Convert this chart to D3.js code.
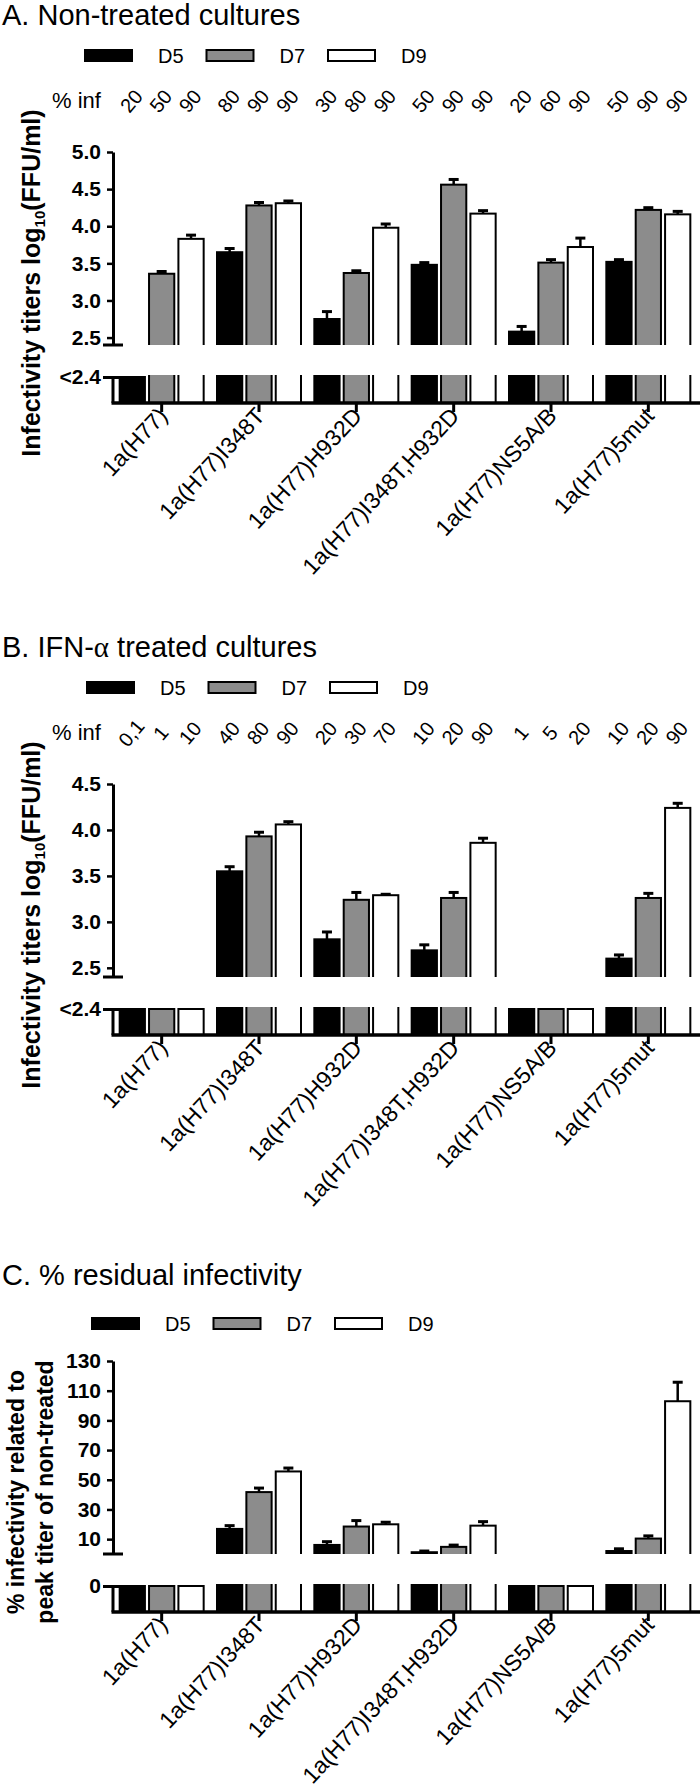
<!DOCTYPE html>
<meta charset="utf-8">
<style>
    body { margin: 0; background: #fff; }
    svg { font-family: "Liberation Sans", Arial, sans-serif; }
    .axis path, .axis line { stroke: #000; }
    .axis text { fill: #000; }
    .ytick text { font-weight: bold; font-size: 21px; }
    .xtick text { font-size: 23px; }
</style>
<body>
<script src="https://d3js.org/d3.v7.min.js"></script>
<script>

// strains (x categories) and days (series)
var strains = ["1a(H77)", "1a(H77)I348T", "1a(H77)H932D", "1a(H77)I348T,H932D", "1a(H77)NS5A/B", "1a(H77)5mut"];
var days = ["D5", "D7", "D9"];
var dayFill = {"D5": "#000", "D7": "#8c8c8c", "D9": "#fff"};

// A. non-treated, log10 FFU/ml (2.4 = below detection, "<2.4")
var nonTreatedD5 = [2.4, 3.65, 2.75, 3.48, 2.58, 3.52];
var nonTreatedD7 = [3.36, 4.28, 3.37, 4.56, 3.51, 4.22];
var nonTreatedD9 = [3.83, 4.31, 3.98, 4.17, 3.72, 4.16];
var nonTreatedErrD5 = [0, 0.05, 0.10, 0.03, 0.07, 0.03];
var nonTreatedErrD7 = [0.03, 0.04, 0.03, 0.07, 0.04, 0.03];
var nonTreatedErrD9 = [0.05, 0.03, 0.05, 0.04, 0.12, 0.04];
var nonTreatedInf = [["20","50","90"], ["80","90","90"], ["30","80","90"], ["50","90","90"], ["20","60","90"], ["50","90","90"]];

// B. IFN-alpha treated
var ifnD5 = [2.4, 3.55, 2.81, 2.69, 2.4, 2.60];
var ifnD7 = [2.4, 3.93, 3.24, 3.26, 2.4, 3.26];
var ifnD9 = [2.4, 4.06, 3.29, 3.86, 2.4, 4.24];
var ifnErrD5 = [0, 0.05, 0.08, 0.06, 0, 0.04];
var ifnErrD7 = [0, 0.045, 0.08, 0.06, 0, 0.05];
var ifnErrD9 = [0, 0.03, 0.01, 0.05, 0, 0.05];
var ifnInf = [["0,1","1","10"], ["40","80","90"], ["20","30","70"], ["10","20","90"], ["1","5","20"], ["10","20","90"]];

// C. % residual infectivity
var residualD5 = [0, 16.9, 6.1, 1.2, 0, 2.0];
var residualD7 = [0, 41.7, 18.5, 4.8, 0, 10.4];
var residualD9 = [0, 55.6, 20.0, 19.1, 0, 102.9];
var residualErrD5 = [0, 2.2, 2.2, 0.8, 0, 1.5];
var residualErrD7 = [0, 2.7, 4.0, 1.2, 0, 1.8];
var residualErrD9 = [0, 2.3, 1.4, 2.7, 0, 12.8];

// tick values
var ticksA = [2.5, 3.0, 3.5, 4.0, 4.5, 5.0];
var ticksB = [2.5, 3.0, 3.5, 4.0, 4.5];
var ticksC = [10, 30, 50, 70, 90, 110, 130];

var svg = d3.select("body").append("svg")
    .attr("width", 700)
    .attr("height", 1790);

// geometry shared by the three panels (panel coordinates)
var axisX = 113, upTop = 152, upBottom = 345, lowTop = 377, lowBottom = 403;

var x0 = d3.scaleBand().domain(strains).range([axisX, 697]);
var x1 = d3.scaleBand().domain(days).range([-42, 42]).paddingInner(0.14);

function drawPanel(p) {
    var g = svg.append("g").attr("transform", "translate(0," + p.oy + ")");

    var upper = d3.scaleLinear().domain(p.upperDomain).range([upBottom, upTop]);
    var lower = d3.scaleLinear().domain([p.lowValue - 1, p.lowValue]).range([lowBottom, lowTop]);

    // title
    var t = g.append("text").attr("x", 2).attr("y", p.titleY)
        .style("font-size", "29px");
    p.title.forEach(function(part) {
        var s = t.append("tspan").text(part.text);
        if (part.serif) s.style("font-family", "'Liberation Serif', 'DejaVu Serif', serif");
    });

    // legend
    days.forEach(function(d, i) {
        var lx = 85 + p.legendDx + i * 121.5;
        g.append("rect")
            .attr("x", lx).attr("y", p.legendY - 5.5)
            .attr("width", 47).attr("height", 11)
            .attr("fill", dayFill[d]).attr("stroke", "#000").attr("stroke-width", 2);
        g.append("text")
            .attr("x", lx + 73).attr("y", p.legendY + 7.5)
            .style("font-size", "20px")
            .text(d);
    });

    // % inf row
    if (p.inf) {
        g.append("text").attr("x", 52).attr("y", 108)
            .style("font-size", "22px").text("% inf");
        strains.forEach(function(s, si) {
            days.forEach(function(d, di) {
                var cx = x0(s) + x0.bandwidth() / 2 + x1(d) + x1.bandwidth() / 2;
                g.append("text")
                    .attr("transform", "translate(" + (cx - 1) + ",101) rotate(-50)")
                    .attr("text-anchor", "middle")
                    .attr("dy", "0.35em")
                    .style("font-size", "20px")
                    .text(p.inf[si][di]);
            });
        });
    }

    // clip regions for the two axis segments
    var cu = "clipU" + p.id, cl = "clipL" + p.id;
    var defs = g.append("defs");
    defs.append("clipPath").attr("id", cu).append("rect")
        .attr("x", 0).attr("y", upTop - 40).attr("width", 700).attr("height", upBottom - upTop + 40);
    defs.append("clipPath").attr("id", cl).append("rect")
        .attr("x", 0).attr("y", lowTop - 2).attr("width", 700).attr("height", lowBottom - lowTop + 2);

    var rows = [];
    strains.forEach(function(s, si) {
        days.forEach(function(d, di) {
            rows.push({strain: s, day: d, value: p.values[di][si], err: p.errors[di][si]});
        });
    });
    function bx(r) { return x0(r.strain) + x0.bandwidth() / 2 + x1(r.day); }

    // upper segment bars with positive error bars
    var gu = g.append("g").attr("clip-path", "url(#" + cu + ")");
    var up = rows.filter(function(r) { return r.value > p.upperDomain[0]; });
    var withErr = up.filter(function(r) { return r.err > 0; });
    gu.selectAll("line.err").data(withErr).enter()
        .append("line")
        .attr("x1", function(r) { return bx(r) + x1.bandwidth() / 2; })
        .attr("x2", function(r) { return bx(r) + x1.bandwidth() / 2; })
        .attr("y1", function(r) { return upper(r.value); })
        .attr("y2", function(r) { return upper(r.value + r.err); })
        .attr("stroke", "#000").attr("stroke-width", 2.5);
    gu.selectAll("line.cap").data(withErr).enter()
        .append("line")
        .attr("x1", function(r) { return bx(r) + x1.bandwidth() / 2 - 5; })
        .attr("x2", function(r) { return bx(r) + x1.bandwidth() / 2 + 5; })
        .attr("y1", function(r) { return upper(r.value + r.err); })
        .attr("y2", function(r) { return upper(r.value + r.err); })
        .attr("stroke", "#000").attr("stroke-width", 3);
    gu.selectAll("rect").data(up).enter().append("rect")
        .attr("x", bx)
        .attr("y", function(r) { return upper(r.value); })
        .attr("width", x1.bandwidth())
        .attr("height", function(r) { return upBottom + 6 - upper(r.value); })
        .attr("fill", function(r) { return dayFill[r.day]; })
        .attr("stroke", "#000").attr("stroke-width", 2);

    // lower segment bars
    var gl = g.append("g").attr("clip-path", "url(#" + cl + ")");
    gl.selectAll("rect").data(rows).enter().append("rect")
        .attr("x", bx)
        .attr("y", function(r) { return Math.max(lower(r.value), lowTop - 20); })
        .attr("width", x1.bandwidth())
        .attr("height", function(r) { return lowBottom - Math.max(lower(r.value), lowTop - 20); })
        .attr("fill", function(r) { return dayFill[r.day]; })
        .attr("stroke", "#000").attr("stroke-width", 2);

    // y axis, upper segment
    var ya = g.append("g").attr("class", "axis ytick")
        .attr("transform", "translate(" + axisX + ",0)")
        .call(d3.axisLeft(upper).tickValues(p.ticks).tickSize(6).tickSizeOuter(0).tickFormat(p.fmt));
    // y axis, lower segment
    var yl = g.append("g").attr("class", "axis ytick")
        .attr("transform", "translate(" + axisX + ",0)")
        .call(d3.axisLeft(lower).tickValues([p.lowValue]).tickSize(10).tickSizeOuter(0)
            .tickFormat(function() { return p.lowLabel; }));
    [ya, yl].forEach(function(a) {
        a.select(".domain").attr("stroke-width", 3);
        a.selectAll(".tick line").attr("stroke-width", 2.5);
        a.selectAll(".tick text").attr("x", -12);
    });
    yl.select(".domain").attr("d", "M0," + (lowTop - 1) + "V" + lowBottom);
    yl.select(".tick line").attr("x2", 10).attr("x1", -10).attr("stroke-width", 3);
    // segment break mark
    g.append("line")
        .attr("x1", axisX - 10).attr("x2", axisX + 10)
        .attr("y1", upper.range()[0]).attr("y2", upper.range()[0])
        .attr("stroke", "#000").attr("stroke-width", 3);

    // x axis
    var xa = g.append("g").attr("class", "axis xtick")
        .attr("transform", "translate(0," + lowBottom + ")")
        .call(d3.axisBottom(x0).tickSize(9).tickSizeOuter(0));
    xa.select(".domain").attr("stroke-width", 3.5).attr("d", "M" + (axisX - 1.5) + ",0H700");
    xa.selectAll(".tick line").attr("stroke-width", 3);
    xa.selectAll(".tick text")
        .attr("text-anchor", "end")
        .attr("x", null).attr("y", null).attr("dy", null)
        .attr("transform", "translate(7,14) rotate(-47)");

    // y axis title
    p.yTitle.forEach(function(line) {
        var yt = g.append("text")
            .attr("transform", "translate(" + line.x + ",283) rotate(-90)")
            .attr("text-anchor", "middle")
            .style("font-weight", "bold")
            .style("font-size", line.size + "px");
        line.parts.forEach(function(part) {
            var s = yt.append("tspan").text(part.text);
            if (part.sub) s.style("font-size", "15px").attr("dy", 5);
            if (part.after) s.attr("dy", -5);
        });
    });
}

var titerTitle = [{x: 40, size: 25, parts: [{text: "Infectivity titers log"}, {text: "10", sub: true}, {text: "(FFU/ml)", after: true}]}];

drawPanel({
    id: "A", oy: 0, titleY: 25, legendY: 55.5, legendDx: 0,
    title: [{text: "A. Non-treated cultures"}],
    inf: nonTreatedInf,
    upperDomain: [2.4, 5.0], ticks: ticksA, fmt: d3.format(".1f"),
    lowValue: 2.4, lowLabel: "<2.4",
    values: [nonTreatedD5, nonTreatedD7, nonTreatedD9],
    errors: [nonTreatedErrD5, nonTreatedErrD7, nonTreatedErrD9],
    yTitle: titerTitle
});

drawPanel({
    id: "B", oy: 632, titleY: 25, legendY: 55.5, legendDx: 2,
    title: [{text: "B. IFN-"}, {text: "\u03b1", serif: true}, {text: " treated cultures"}],
    inf: ifnInf,
    upperDomain: [2.4, 4.5], ticks: ticksB, fmt: d3.format(".1f"),
    lowValue: 2.4, lowLabel: "<2.4",
    values: [ifnD5, ifnD7, ifnD9],
    errors: [ifnErrD5, ifnErrD7, ifnErrD9],
    yTitle: titerTitle
});

drawPanel({
    id: "C", oy: 1209, titleY: 76, legendY: 114.5, legendDx: 7,
    title: [{text: "C. % residual infectivity"}],
    inf: null,
    upperDomain: [0, 130], ticks: ticksC, fmt: d3.format("d"),
    lowValue: 0, lowLabel: "0",
    values: [residualD5, residualD7, residualD9],
    errors: [residualErrD5, residualErrD7, residualErrD9],
    yTitle: [{x: 24, size: 23, parts: [{text: "% infectivity related to"}]},
             {x: 53, size: 23, parts: [{text: "peak titer of non-treated"}]}]
});

</script>
</body>
